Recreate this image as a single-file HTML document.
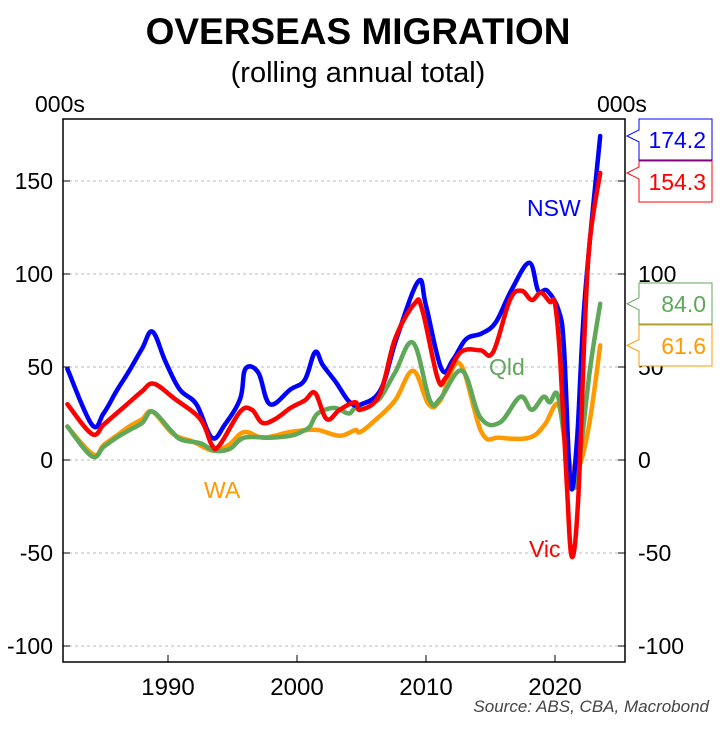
<!DOCTYPE html>
<html><head><meta charset="utf-8"><style>
body{margin:0;background:#fff;width:722px;height:726px;overflow:hidden}
svg text{font-family:"Liberation Sans",Arial,sans-serif}
</style></head><body>
<svg id="chart" width="722" height="726" xmlns="http://www.w3.org/2000/svg">
<text x="358" y="44" text-anchor="middle" font-size="37" font-weight="bold">OVERSEAS MIGRATION</text>
<text x="358" y="82" text-anchor="middle" font-size="29">(rolling annual total)</text>
<text x="35" y="112" font-size="23">000s</text>
<text x="597" y="112" font-size="23">000s</text>
<g id="grid"></g>
<g id="axes"></g>
<g id="series"></g>
<rect x="63" y="119" width="562" height="543" fill="none" stroke="#000" stroke-width="1.5"/>
<text x="527" y="216" font-size="23" fill="#0000ff">NSW</text>
<text x="489" y="375" font-size="23" fill="#5fa85a">Qld</text>
<text x="204" y="498" font-size="23" fill="#ff9900">WA</text>
<text x="529" y="557" font-size="23" fill="#ff0000">Vic</text>
<g id="callouts"></g>
<text x="709" y="712" text-anchor="end" font-size="17" font-style="italic" fill="#444">Source: ABS, CBA, Macrobond</text>
</svg>
<script>
const yTicks=[150,100,50,0,-50,-100];
const xTicks=[1990,2000,2010,2020];
const nswYears=[1982.2,1984.1,1985,1986,1987,1988,1988.8,1989.8,1990.9,1992.2,1993.4,1994.4,1995.6,1996,1997,1997.9,1999.5,2000.6,2001.4,2002,2003,2004.1,2005,2006.5,2007.7,2009.4,2010,2011.2,2012.1,2013.1,2014.3,2015.4,2016.6,2018,2018.7,2019.4,2020.3,2020.7,2021.2,2021.7,2022.3,2023.5];
const nswValues=[49,19,25,37,48,60,69,53,38,30,12,19,33,49,47,30,38,43,58,51,42,31,30,38,65,96,83,49,54,65,68,74,91,106,91,91,80,60,-13,10,86,174.2];
const vicYears=[1982.2,1984.1,1985,1986,1987,1988,1988.9,1990.5,1992.5,1993.4,1994,1995.6,1996.5,1997.3,1998.3,1999.5,2000.6,2001.4,2002.3,2003.3,2004.5,2004.9,2006.4,2007.6,2009.1,2009.7,2010.9,2011.5,2012.7,2014.2,2015.2,2016.5,2017.4,2018.2,2018.9,2019.6,2020,2020.4,2020.9,2021.3,2021.8,2022.3,2022.7,2023.5];
const vicValues=[30,14,19,25,31,37,41,33,22,8,8,26,27,20,22,28,32,36,22,27,31,27,35,65,84,81,44,44,58,59,58,86,91,86,90,85,84,54,-11,-52,-21,70,118,154.3];
const qldYears=[1982.2,1984.1,1985,1986,1987,1988,1988.8,1990.2,1991,1992.5,1993.6,1994.8,1995.9,1997.9,1999.5,2000.3,2001,2001.6,2002.9,2004,2004.5,2005.7,2006.4,2007.6,2009,2010.3,2011.1,2012.8,2014.2,2015.7,2017.3,2018.2,2019.1,2019.6,2020.2,2020.8,2021.4,2021.9,2022.7,2023.5];
const qldValues=[18,2,7,12,16,20,26,16,11,9,5,6,12,12,13,15,18,25,28,25,28,32,33,47,63,32,33,48,23,20,34,27,34,31,35,8,-15,0,48,84.0];
const waYears=[1982.2,1984.2,1985,1986,1987,1988,1988.8,1990.4,1991.9,1993.5,1994.7,1995.9,1997.4,1999.4,2000.6,2001.7,2003.3,2004.5,2004.9,2006,2007.6,2009,2010.2,2011.1,2012.6,2014.3,2015.7,2018,2019.2,2020.2,2020.8,2021.3,2021.9,2022.7,2023.5];
const waValues=[18,3,8,13,18,22,26,14,10,5,8,15,12,15,16,16,13,16,15,21,32,48,30,32,52,15,12,12,19,30,11,-5,-3,21,61.6];
const calloutValues=[174.2,154.3,84.0,61.6];
const calloutLabels=["174.2","154.3","84.0","61.6"];

const X=yr=>168+(yr-1990)*12.9;
const Y=v=>460-v*1.86;
const NS="http://www.w3.org/2000/svg";
function mk(tag,attrs,parent){const e=document.createElementNS(NS,tag);for(const k in attrs)e.setAttribute(k,attrs[k]);parent.appendChild(e);return e;}
const grid=document.getElementById('grid'),axes=document.getElementById('axes'),ser=document.getElementById('series'),cal=document.getElementById('callouts');
yTicks.forEach(t=>{
  const g=mk('line',{x1:63,x2:625,y1:Y(t),y2:Y(t),stroke:'#bbb','stroke-width':1,'stroke-dasharray':'3,3'},grid);
  
  
  const a=mk('line',{x1:63,x2:70,y1:Y(t),y2:Y(t),stroke:'#000','stroke-width':1},axes);
  
  
  const b=mk('line',{x1:618,x2:625,y1:Y(t),y2:Y(t),stroke:'#000','stroke-width':1},axes);
  
  
  const l=mk('text',{x:53,y:Y(t)+8,'text-anchor':'end','font-size':23},axes);l.textContent=t;
  
  
  const r=mk('text',{x:638,y:Y(t)+8,'font-size':23},axes);r.textContent=t;
  
  
});
xTicks.forEach(t=>{
  const a=mk('line',{x1:X(t),x2:X(t),y1:655,y2:662,stroke:'#000','stroke-width':1},axes);
  
  
  const l=mk('text',{x:X(t),y:695,'text-anchor':'middle','font-size':24},axes);l.textContent=t;
  
  
});
function line(years,vals,color,name){
  const pts=years.map((y,i)=>[X(y),Y(vals[i])]);
  let d='M'+pts[0][0].toFixed(1)+','+pts[0][1].toFixed(1);
  const k=0.18;
  for(let i=0;i<pts.length-1;i++){
    const p0=pts[Math.max(0,i-1)],p1=pts[i],p2=pts[i+1],p3=pts[Math.min(pts.length-1,i+2)];
    const c1=[p1[0]+(p2[0]-p0[0])*k,p1[1]+(p2[1]-p0[1])*k];
    const c2=[p2[0]-(p3[0]-p1[0])*k,p2[1]-(p3[1]-p1[1])*k];
    d+=` C${c1[0].toFixed(1)},${c1[1].toFixed(1)} ${c2[0].toFixed(1)},${c2[1].toFixed(1)} ${p2[0].toFixed(1)},${p2[1].toFixed(1)}`;
  }
  const p=mk('path',{d:d,fill:'none',stroke:color,'stroke-width':4.5,'stroke-linejoin':'round','stroke-linecap':'round'},ser);
  
  
}
line(waYears,waValues,'#ff9900','wa-line');
line(qldYears,qldValues,'#5fa85a','qld-line');
line(nswYears,nswValues,'#0000ff','nsw-line');
line(vicYears,vicValues,'#ff0000','vic-line');
const cColors=['#0000ff','#ff0000','#5fa85a','#ff9900'];
const boxTops=[119,161,283,325];
calloutValues.forEach((v,i)=>{
  const t=boxTops[i],py=Y(v);
  const d=`M639,${t} L712,${t} L712,${t+41} L639,${t+41} L639,${py+6} L627,${py} L639,${py-6} Z`;
  const p=mk('path',{d:d,fill:'#fff',stroke:cColors[i],'stroke-width':1},cal);
  
  
  const tx=mk('text',{x:706,y:t+29,'text-anchor':'end','font-size':23,fill:cColors[i]},cal);tx.textContent=calloutLabels[i];
  
  
});
</script>
</body></html>
